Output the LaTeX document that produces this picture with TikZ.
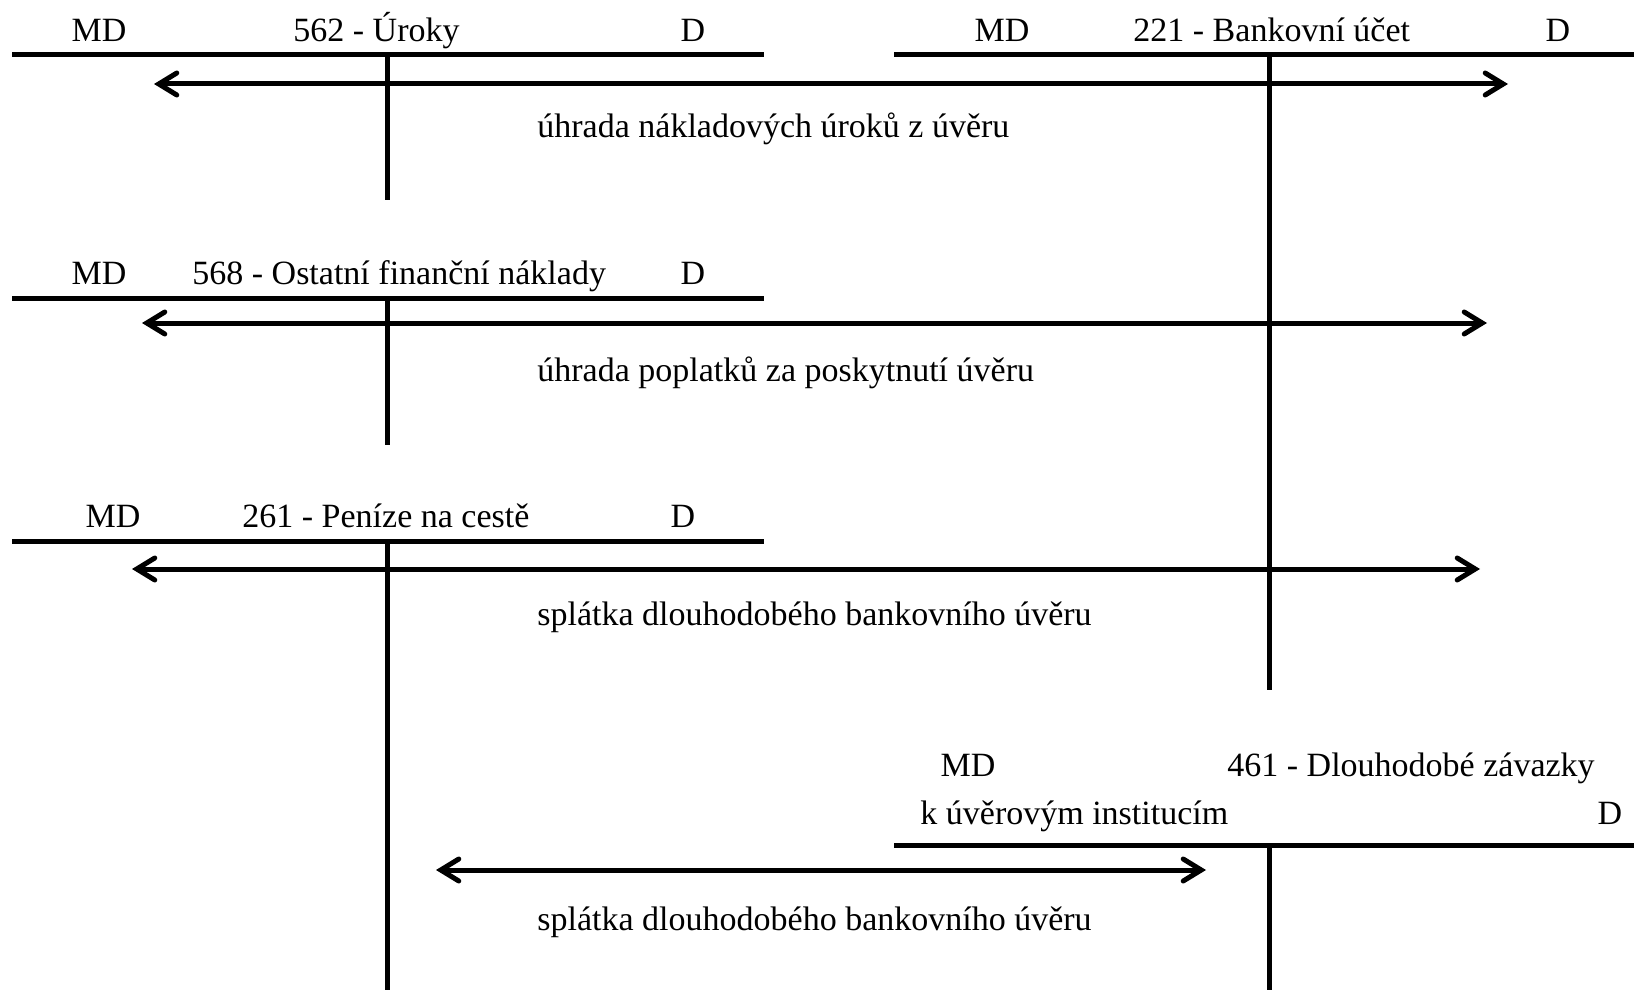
\documentclass[tikz,border=0pt]{standalone}
\usepackage{fontspec}
\setmainfont{Liberation Serif}
\usetikzlibrary{arrows.meta}
\begin{document}
\begin{tikzpicture}[x=0.5pt,y=-0.5pt,
  rule/.style={line width=2.5pt},
  barb/.tip={Straight Barb[length=9pt,width=11pt,line cap=round,line width=2.5pt]},
  flow/.style={line width=2.5pt,barb-barb},
  lbl/.style={inner sep=0pt,anchor=base,font=\fontsize{17pt}{20pt}\selectfont},
  lbll/.style={lbl,anchor=base west}]
\useasboundingbox (0,0) rectangle (1634,990);

% 562 - Úroky
\coordinate (a1) at (12,55);  \coordinate (b1) at (764,55);
\coordinate (t1) at (387,55); \coordinate (e1) at (387,200);
\draw[rule] (a1) -- (b1);
\draw[rule] (t1) -- (e1);
\node[lbl]  (md1) at (99,42)   {MD};
\node[lbll] (n1)  at (293,42)  {562 - Úroky};
\node[lbl]  (d1)  at (693,42)  {D};

% 221 - Bankovní účet
\coordinate (a2) at (894,55);  \coordinate (b2) at (1634,55);
\coordinate (t2) at (1269,55); \coordinate (e2) at (1269,690);
\draw[rule] (a2) -- (b2);
\draw[rule] (t2) -- (e2);
\node[lbl]  (md2) at (1002,42) {MD};
\node[lbll] (n2)  at (1133,42) {221 - Bankovní účet};
\node[lbl]  (d2)  at (1558,42) {D};

% 568 - Ostatní finanční náklady
\coordinate (a3) at (12,298);  \coordinate (b3) at (764,298);
\coordinate (t3) at (387,298); \coordinate (e3) at (387,445);
\draw[rule] (a3) -- (b3);
\draw[rule] (t3) -- (e3);
\node[lbl]  (md3) at (99,285)  {MD};
\node[lbll] (n3)  at (192,285) {568 - Ostatní finanční náklady};
\node[lbl]  (d3)  at (693,285) {D};

% 261 - Peníze na cestě
\coordinate (a4) at (12,541);  \coordinate (b4) at (764,541);
\coordinate (t4) at (387,541); \coordinate (e4) at (387,990);
\draw[rule] (a4) -- (b4);
\draw[rule] (t4) -- (e4);
\node[lbl]  (md4) at (113,527) {MD};
\node[lbll] (n4)  at (242,527) {261 - Peníze na cestě};
\node[lbl]  (d4)  at (683,527) {D};

% 461 - Dlouhodobé závazky k úvěrovým institucím
\coordinate (a5) at (894,845);  \coordinate (b5) at (1634,845);
\coordinate (t5) at (1269,845); \coordinate (e5) at (1269,990);
\draw[rule] (a5) -- (b5);
\draw[rule] (t5) -- (e5);
\node[lbl]  (md5) at (968,776)  {MD};
\node[lbll] (n5)  at (1227,776) {461 - Dlouhodobé závazky};
\node[lbll] (n5b) at (920,824)  {k úvěrovým institucím};
\node[lbl]  (d5)  at (1610,824) {D};

% postings
\coordinate (p1l) at (154,84);  \coordinate (p1r) at (1508,84);
\draw[flow] (p1l) -- (p1r);
\node[lbll] (c1) at (537,138) {úhrada nákladových úroků z úvěru};

\coordinate (p2l) at (142,323); \coordinate (p2r) at (1487,323);
\draw[flow] (p2l) -- (p2r);
\node[lbll] (c2) at (537,381) {úhrada poplatků za poskytnutí úvěru};

\coordinate (p3l) at (132,569); \coordinate (p3r) at (1480,569);
\draw[flow] (p3l) -- (p3r);
\node[lbll] (c3) at (537,625) {splátka dlouhodobého bankovního úvěru};

\coordinate (p4l) at (436,870); \coordinate (p4r) at (1206,870);
\draw[flow] (p4l) -- (p4r);
\node[lbll] (c4) at (537,930) {splátka dlouhodobého bankovního úvěru};
\end{tikzpicture}
\end{document}
